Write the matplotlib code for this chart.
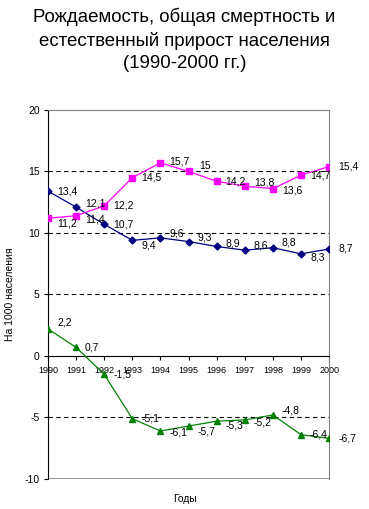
import matplotlib
matplotlib.use('Agg')
import matplotlib.pyplot as plt

plt.rcParams['font.family'] = ['Liberation Sans', 'DejaVu Sans']

years = [1990, 1991, 1992, 1993, 1994, 1995, 1996, 1997, 1998, 1999, 2000]
birth = [11.2, 11.4, 12.2, 14.5, 15.7, 15.0, 14.2, 13.8, 13.6, 14.7, 15.4]
death = [13.4, 12.1, 10.7, 9.4, 9.6, 9.3, 8.9, 8.6, 8.8, 8.3, 8.7]
growth = [2.2, 0.7, -1.5, -5.1, -6.1, -5.7, -5.3, -5.2, -4.8, -6.4, -6.7]
y_ticks = [-10, -5, 0, 5, 10, 15, 20]

# vertical nudges of the data labels (pixels, up is positive)
birth_dy = [-5, -4, 0, 0, 1, 5, 0, 4, -2, 0, 0]
death_dy = [0, 4, 0, -5, 4, 4, 3, 5, 5, -4, 0]
growth_dy = [6, 0, 0, 0, -2, -5, -4, -3, 5, 0, 0]


def fmt(v):
    s = ('%.1f' % v).replace('.', ',')
    if s.endswith(',0'):
        s = s[:-2]
    return s


fig = plt.figure(figsize=(3.69, 5.09), dpi=100)
ax = fig.add_axes([0.130, 0.059, 0.762, 0.725])

for g in [-5, 5, 10, 15]:
    ax.axhline(g, color='black', linestyle=(0, (4, 3)), linewidth=0.8, zorder=1)

ax.plot(years, death, color='#000080', marker='D', markersize=3.5, linewidth=0.9, zorder=3)
ax.plot(years, birth, color='#FF00FF', marker='s', markersize=4.2, linewidth=0.9, zorder=3)
ax.plot(years, growth, color='#008000', marker='^', markersize=4.5, linewidth=0.9, zorder=3)

for series, dys in ((birth, birth_dy), (death, death_dy), (growth, growth_dy)):
    for x, v, dy in zip(years, series, dys):
        dx = 11 if (series is birth and x == 1995) else 9
        ax.annotate(fmt(v), (x, v), xytext=(dx, dy), textcoords='offset pixels',
                    fontsize=7.5, ha='left', va='center', zorder=4)

ax.set_xlim(1990, 2000)
ax.set_ylim(-10, 20)
ax.set_yticks(y_ticks)
ax.set_yticklabels([str(t) for t in y_ticks], fontsize=7.5)
ax.tick_params(axis='y', direction='out', length=3, pad=3, width=0.8)

# x axis crosses at zero
ax.spines['bottom'].set_position(('data', 0))
ax.spines['bottom'].set_color('black')
ax.spines['left'].set_color('black')
ax.spines['right'].set_color('#808080')
ax.spines['top'].set_color('#808080')
ax.axhline(-10, color='#808080', linewidth=1.2, zorder=0)
ax.set_xticks(years)
ax.set_xticklabels([str(y) for y in years], fontsize=6.5)
ax.tick_params(axis='x', direction='out', length=3, pad=4, width=0.8)

ax.set_ylabel('На 1000 населения', fontsize=7.5, labelpad=7)
fig.text(0.5, 0.02, 'Годы', ha='center', va='center', fontsize=7.5)

fig.text(0.5, 0.922, 'Рождаемость, общая смертность и\nестественный прирост населения\n(1990-2000 гг.)',
         ha='center', va='center', fontsize=13.4, linespacing=1.4)

fig.savefig('out.png', dpi=100)
